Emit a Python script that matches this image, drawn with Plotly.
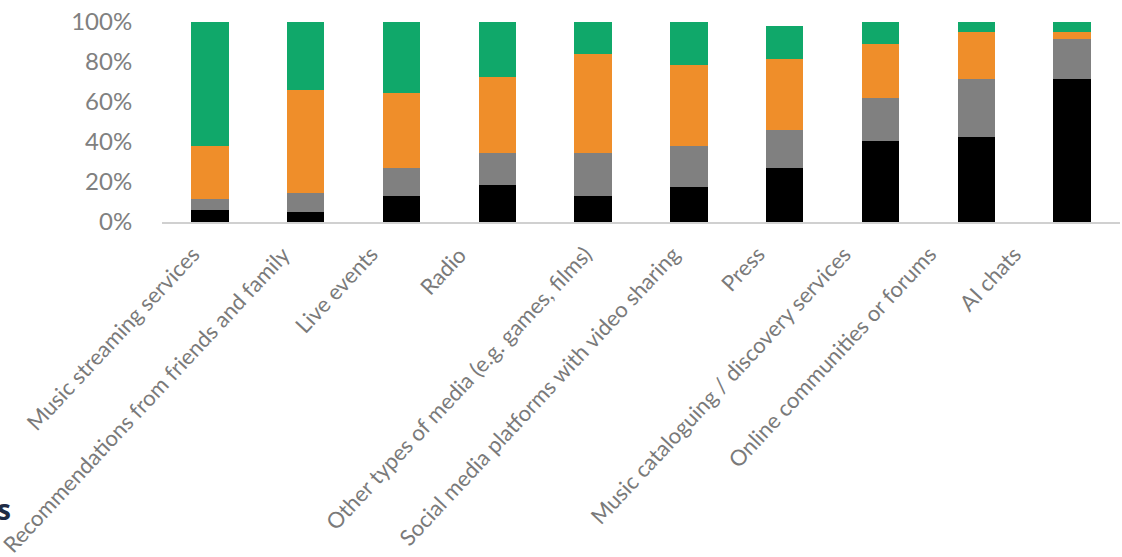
import plotly.graph_objects as go

categories = [
    "Music streaming services",
    "Recommendations from friends and family",
    "Live events",
    "Radio",
    "Other types of media (e.g. games, films)",
    "Social media platforms with video sharing",
    "Press",
    "Music cataloguing / discovery services",
    "Online communities or forums",
    "AI chats",
]
black_vals = [6, 5, 13, 18.5, 13, 17.7, 26.8, 40.5, 42.7, 71.5]
gray_vals = [5.3, 9.5, 14, 15.8, 21.7, 20.5, 19.2, 21.3, 28.6, 19.8]
orange_vals = [26.7, 51.5, 37.7, 38.4, 49.1, 40.3, 35.5, 27, 23.9, 3.9]
green_vals = [62, 34, 35.3, 27.3, 16.2, 21.5, 16.7, 11.5, 4.8, 4.8]
y_ticks = [0, 20, 40, 60, 80, 100]
y_tick_labels = ["0%", "20%", "40%", "60%", "80%", "100%"]

# horizontal offsets (px) of each rotated category label relative to its bar
label_xshift = [-10, -15, -23, -30, 0, -8, -19, -28, -39, -50]

series = [
    ("Series 1", black_vals, "#000000"),
    ("Series 2", gray_vals, "#808080"),
    ("Series 3", orange_vals, "#EF8E2A"),
    ("Series 4", green_vals, "#10A86A"),
]

fig = go.Figure()
for name, vals, color in series:
    fig.add_trace(go.Bar(x=categories, y=vals, name=name, marker=dict(color=color, line=dict(width=0))))

fig.update_layout(
    barmode="stack",
    bargap=0.61,
    width=1122,
    height=557,
    margin=dict(l=162, r=2, t=22, b=335),
    paper_bgcolor="white",
    plot_bgcolor="white",
    showlegend=False,
    font=dict(family="Lato, Open Sans, sans-serif", color="#7f7f7f"),
    xaxis=dict(
        range=[-0.5, len(categories) - 0.5],
        autorange=False,
        showticklabels=False,
        showgrid=False,
        showline=True,
        linecolor="#d0d0d0",
        linewidth=1.5,
        ticks="",
        automargin=False,
    ),
    yaxis=dict(
        range=[0, 100],
        autorange=False,
        tickvals=y_ticks,
        ticktext=y_tick_labels,
        tickfont=dict(size=24, color="#808080"),
        showgrid=False,
        zeroline=False,
        showline=False,
        ticks="outside",
        ticklen=24,
        tickcolor="rgba(0,0,0,0)",
        automargin=False,
    ),
)

for cat, dx in zip(categories, label_xshift):
    fig.add_annotation(
        text=cat, x=cat, y=0, xref="x", yref="y",
        xanchor="right", yanchor="top", textangle=-47,
        xshift=dx + 7, yshift=-16, showarrow=False,
        font=dict(size=22, color="#7a7a7a", family="Lato"),
    )

fig.add_annotation(
    text="<b>s</b>", xref="paper", yref="paper",
    x=-162 / 958, y=-(509 - 222) / 200, xanchor="left", yanchor="middle",
    xshift=-5, showarrow=False, font=dict(size=28, color="#1f2b45", family="Open Sans"),
)

fig.write_html("out.html")
